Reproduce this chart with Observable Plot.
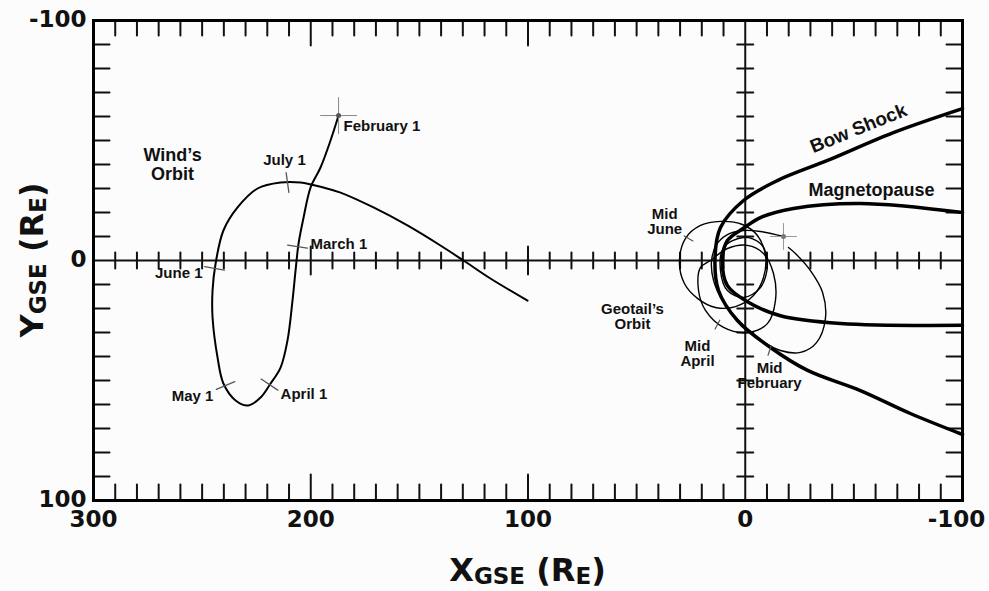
<!DOCTYPE html>
<html><head><meta charset="utf-8">
<script src="https://cdn.jsdelivr.net/npm/d3@7"></script>
<script src="https://cdn.jsdelivr.net/npm/@observablehq/plot@0.6"></script>
<style>html,body{margin:0;padding:0;background:#fcfcfc;}</style>
</head><body><div id="chart"></div>
<script>
const FONT = '"Liberation Sans", Arial, Helvetica, sans-serif';
const AXIS_FONT = '"DejaVu Sans", "Liberation Sans", Arial, sans-serif';

// Tick labels
const xTickLabels = [300, 200, 100, 0];
const xEdgeLabel = [-100];
const yTickLabels = [-100, 0, 100];
const xMajorTicks = [200, 100];
const xMinorTicks = d3.range(-90, 300, 10).filter(v => v !== 0 && v !== 100 && v !== 200);
const yMinorTicks = d3.range(-90, 100, 10).filter(v => v !== 0);

// Wind orbit [XGSE, YGSE] in Earth radii
const windOrbit = [[187.2,-60.4],[190.9,-50],[195.5,-38.75],[200.1,-30.4],[203.3,-17.9],[205.6,-7.1],[207.0,4.2],[208.4,16.7],[210.7,33.3],[213.9,44.6],[218.5,51.25],[223.1,57.1],[228.7,60.4],[234.6,58.3],[240.2,51.25],[242.9,40.4],[245.2,23.75],[245.2,12.5],[243.8,1.25],[240.2,-12.5],[233.7,-22.1],[224.5,-30],[213.9,-32.5],[204.7,-32.5],[194.1,-30.4],[186.3,-28.3],[171.1,-22.1],[155.5,-14.6],[140.3,-6.25],[129.7,0],[117.3,7.5],[100.2,16.7]];
const windDates = [[206.1,-5.8],[219.0,51.7],[239.2,52.1],[244.3,3.3],[210.7,-32.5]];
const windStart = [[187.2,-60.4]];

// Geotail loops
const geotailJune = [[30.3,0.8],[27.5,-9.2],[20.6,-14.6],[11.4,-16.3],[1.3,-15],[-5.6,-10.4],[-9.3,-2.1],[-8.4,7.1],[-3.8,14.6],[4.5,19.2],[13.7,19.6],[22,15.8],[28,9.6]];
const geotailApril = [[20.6,2.9],[21.5,12.5],[18.3,20.8],[10,27.9],[-1,30],[-10.2,26.3],[-13.9,16.7],[-13,5.4],[-8.4,-2.9],[-1,-6.3],[8.2,-5],[16,0]];
const geotailInner = [[10,-5.4],[0.8,-9.6],[-7,-7.1],[-10.2,1.25],[-7,11.25],[0.8,15.4],[8.2,12.5],[11.4,4.2]];
const geotailFeb = [[-17.6,-10],[-7,-12.1],[0.8,-12.5],[8.2,-10.8],[13.2,-6.7],[15.5,0],[14.6,8.3],[10.5,16.7],[3.1,25],[-6.1,32.5],[-16.2,37.5],[-25.4,38.3],[-32.8,34.2],[-36.9,24.2],[-35.6,13.3],[-30,4.2],[-23.1,-2.9],[-19.9,-5.4]];
const geotailStart = [[-17.6,-10]];
const geotailDates = [{loop: "june", x: 26.1, y: -9.2}, {loop: "april", x: 12.8, y: 26.7}, {loop: "feb", x: -11.2, y: 37.5}];

// Boundaries
const bowShock = [[-100,-63.3],[-68.2,-53.3],[-37.9,-41.7],[-14.8,-33.3],[0.8,-25],[11.4,-13.75],[13.9,-1.5],[12.3,12.5],[3.6,25],[-11.6,36.25],[-28.7,45.8],[-53,54.2],[-76,63.75],[-100,72.5]];
const magnetopause = [[-100,-20],[-53,-23.75],[-22.2,-21.7],[-7,-17.9],[0.3,-13.75],[8.2,-8.3],[10.5,0],[8.2,10.5],[-1,17.2],[-16.2,23],[-43.9,26.25],[-100,27]];

// Annotations
const labelsLarge = [
  {text: "Wind’s\nOrbit", x: 263.6, y: -40},
  {text: "Magnetopause", x: -58.1, y: -29.2}
];
const labelsMiddle = [
  {text: "July 1", x: 212.1, y: -42.1},
  {text: "Mid\nJune", x: 37.1, y: -16.25},
  {text: "Geotail’s\nOrbit", x: 51.9, y: 23.3},
  {text: "Mid\nApril", x: 22, y: 38.75},
  {text: "Mid\nFebruary", x: -11.2, y: 47.9}
];
const labelsStart = [
  {text: "February 1", x: 184.9, y: -55.8},
  {text: "March 1", x: 200.1, y: -6.7},
  {text: "April 1", x: 213.9, y: 55.8}
];
const labelsEnd = [
  {text: "June 1", x: 249.8, y: 5.4},
  {text: "May 1", x: 244.8, y: 56.7}
];
const bowShockLabel = [{text: "Bow Shock", x: -52.1, y: -55}];

// Layout
const W = 989, H = 591, mL = 93, mR = 27, mT = 20, mB = 91;
const xDomain = [300, -100], yDomain = [100, -100];
const kx = (W - mL - mR) / (xDomain[0] - xDomain[1]);
const ky = (H - mT - mB) / (yDomain[0] - yDomain[1]);

function normalAngle(pts, x, y) {
  let best = 0, bd = Infinity;
  pts.forEach((p, i) => { const d = (p[0]-x)**2 + (p[1]-y)**2; if (d < bd) { bd = d; best = i; } });
  const a = pts[Math.max(best-1, 0)], b = pts[Math.min(best+1, pts.length-1)];
  const sx = -(b[0]-a[0]) * kx, sy = (b[1]-a[1]) * ky;
  return Math.atan2(-sy, -sx) * 180 / Math.PI;
}
const loopOf = {june: geotailJune, april: geotailApril, feb: geotailFeb};
const windTicks = windDates.map(([x, y]) => ({x, y, r: normalAngle(windOrbit, x, y)}));
const geoTicks = geotailDates.map(d => ({x: d.x, y: d.y, r: normalAngle(loopOf[d.loop], d.x, d.y)}));

const seg = {draw(ctx, l) { ctx.moveTo(0, 0); ctx.lineTo(0, -l); }};
const vx = d => d, X = d => d[0], Y = d => d[1];
const tickStyle = {shape: seg, stroke: "#111", strokeWidth: 2, anchor: "start"};
const crossStyle = {shape: seg, anchor: "middle", strokeWidth: 1.5};
const axisText = {tickSize: 0, tickFormat: d => String(d), fontSize: 23, fontWeight: "bold", fontFamily: AXIS_FONT, label: null};

const closedLoops = [
  ...geotailJune.map(p => ({k: "june", p})),
  ...geotailApril.map(p => ({k: "april", p})),
  ...geotailInner.map(p => ({k: "inner", p}))
];

const plot = Plot.plot({
  width: W, height: H,
  marginLeft: mL, marginRight: mR, marginTop: mT, marginBottom: mB,
  x: {domain: xDomain},
  y: {domain: yDomain},
  style: {fontFamily: FONT, background: "#fcfcfc", color: "#111"},
  marks: [
    Plot.ruleY([0], {stroke: "#111", strokeWidth: 2}),
    Plot.ruleX([0], {stroke: "#111", strokeWidth: 2}),
    // frame ticks (inward)
    Plot.vector(xMinorTicks, {x: vx, y: () => -100, rotate: 180, length: 15, ...tickStyle}),
    Plot.vector(xMajorTicks, {x: vx, y: () => -100, rotate: 180, length: 25, ...tickStyle}),
    Plot.vector(xMinorTicks, {x: vx, y: () => 100, rotate: 0, length: 16, ...tickStyle}),
    Plot.vector(xMajorTicks, {x: vx, y: () => 100, rotate: 0, length: 26, ...tickStyle}),
    Plot.vector(yMinorTicks, {x: () => 300, y: vx, rotate: 90, length: 16, ...tickStyle}),
    Plot.vector(yMinorTicks, {x: () => -100, y: vx, rotate: -90, length: 16, ...tickStyle}),
    // centre-line ticks (crossing)
    Plot.vector(xMinorTicks, {x: vx, y: () => 0, rotate: 0, length: 16, ...tickStyle, anchor: "middle"}),
    Plot.vector(xMajorTicks, {x: vx, y: () => 0, rotate: 0, length: 28, ...tickStyle, anchor: "middle"}),
    Plot.vector(yMinorTicks, {x: () => 0, y: vx, rotate: 90, length: 16, ...tickStyle, anchor: "middle"}),
    // boundaries
    Plot.line(bowShock, {x: X, y: Y, curve: "catmull-rom", stroke: "#000", strokeWidth: 3.5}),
    Plot.line(magnetopause, {x: X, y: Y, curve: "catmull-rom", stroke: "#000", strokeWidth: 3.5}),
    // Wind
    Plot.line(windOrbit, {x: X, y: Y, curve: "catmull-rom", stroke: "#000", strokeWidth: 2}),
    Plot.vector(windTicks, {x: "x", y: "y", rotate: "r", length: 20, ...crossStyle, stroke: "#555", strokeWidth: 1.3}),
    Plot.vector(windStart, {x: X, y: Y, rotate: 0, length: 36, ...crossStyle, stroke: "#888", strokeWidth: 1}),
    Plot.vector(windStart, {x: X, y: Y, rotate: 90, length: 36, ...crossStyle, stroke: "#888", strokeWidth: 1}),
    Plot.dot(windStart, {x: X, y: Y, r: 2.5, fill: "#555"}),
    // Geotail
    Plot.line(closedLoops, {x: d => d.p[0], y: d => d.p[1], z: "k", curve: "catmull-rom-closed", stroke: "#000", strokeWidth: 1.4}),
    Plot.line(geotailFeb, {x: X, y: Y, curve: "catmull-rom", stroke: "#000", strokeWidth: 1.4}),
    Plot.vector(geoTicks, {x: "x", y: "y", rotate: "r", length: 10, ...crossStyle, stroke: "#555", strokeWidth: 1.2}),
    Plot.vector(geotailStart, {x: X, y: Y, rotate: 0, length: 26, ...crossStyle, stroke: "#999", strokeWidth: 1}),
    Plot.vector(geotailStart, {x: X, y: Y, rotate: 90, length: 26, ...crossStyle, stroke: "#999", strokeWidth: 1}),
    Plot.dot(geotailStart, {x: X, y: Y, r: 2.5, fill: "#777"}),
    // annotations
    Plot.text(labelsLarge, {x: "x", y: "y", text: "text", fontSize: 18, fontWeight: "bold", fill: "#111", lineHeight: 1.05}),
    Plot.text(labelsMiddle, {x: "x", y: "y", text: "text", fontSize: 15, fontWeight: "bold", fill: "#111", lineHeight: 1.05}),
    Plot.text(labelsStart, {x: "x", y: "y", text: "text", fontSize: 15, fontWeight: "bold", fill: "#111", textAnchor: "start"}),
    Plot.text(labelsEnd, {x: "x", y: "y", text: "text", fontSize: 15, fontWeight: "bold", fill: "#111", textAnchor: "end"}),
    Plot.text(bowShockLabel, {x: "x", y: "y", text: "text", fontSize: 19, fontWeight: "bold", fill: "#111", rotate: -22}),
    // axes
    Plot.axisX(xTickLabels, {anchor: "bottom", tickPadding: 10, ...axisText}),
    Plot.axisX(xEdgeLabel, {anchor: "bottom", tickPadding: 10, dx: -6, ...axisText}),
    Plot.axisY(yTickLabels, {anchor: "left", tickPadding: 7, dy: -1, ...axisText}),
    Plot.frame({stroke: "#000", strokeWidth: 3})
  ]
});
document.getElementById("chart").appendChild(plot);

// Axis titles with subscripts
const svg = d3.select(plot);
const sx = plot.scale("x"), sy = plot.scale("y");
const cx = (sx.apply(300) + sx.apply(-100)) / 2;
const cy = (sy.apply(-100) + sy.apply(100)) / 2;
function title(g, main) {
  const t = g.append("text").attr("text-anchor", "middle").attr("font-family", AXIS_FONT).attr("font-weight", "bold").attr("fill", "#111");
  t.append("tspan").attr("font-size", 32).text(main);
  t.append("tspan").attr("font-size", 23).attr("dy", 3).text("GSE");
  t.append("tspan").attr("font-size", 32).attr("dy", -3).text(" (R");
  t.append("tspan").attr("font-size", 23).attr("dy", 3).text("E");
  t.append("tspan").attr("font-size", 32).attr("dy", -3).text(")");
  return t;
}
title(svg.append("g").attr("transform", `translate(${cx},581)`), "X");
title(svg.append("g").attr("transform", `translate(43,${cy}) rotate(-90)`), "Y");
</script></body></html>
